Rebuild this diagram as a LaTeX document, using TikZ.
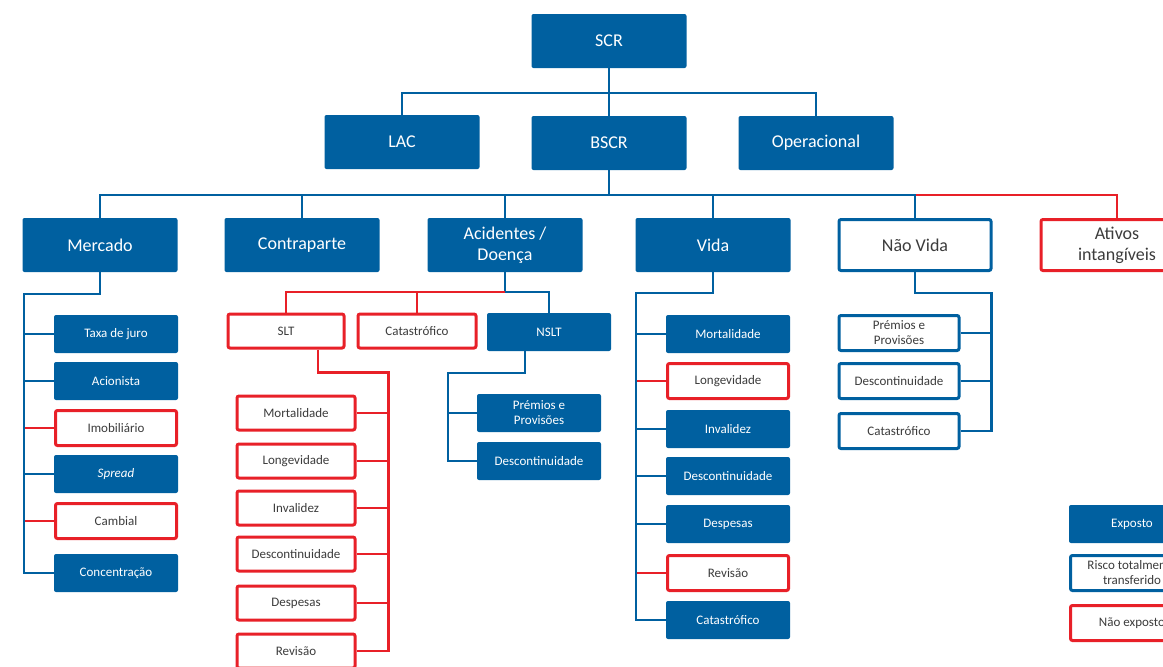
\documentclass[tikz,border=0pt]{standalone}
\usepackage{fontspec}
\setmainfont{Carlito}
\usepackage{tikz}
\usepackage{xcolor}

\definecolor{scrblue}{RGB}{0,96,160}
\definecolor{scrred}{RGB}{232,32,40}
\definecolor{scrtext}{RGB}{60,60,60}

\tikzset{
  big/.style={minimum width=155pt, minimum height=54pt, inner sep=2pt, align=center,
    rounded corners=2pt, font=\fontsize{18}{21}\selectfont},
  small/.style={minimum width=124pt, minimum height=38pt, inner sep=1pt, align=center,
    rounded corners=2pt, font=\fontsize{13}{15}\selectfont},
  expo/.style={fill=scrblue, text=white},
  transf/.style={draw=scrblue, line width=3pt, fill=white, text=scrtext},
  naoexp/.style={draw=scrred, line width=3pt, fill=white, text=scrtext},
  blueline/.style={draw=scrblue, line width=2.5pt},
  redline/.style={draw=scrred, line width=2.5pt}
}

\begin{document}
\begin{tikzpicture}[x=1pt,y=-1pt]
      \useasboundingbox (0,0) rectangle (1163,667);
      \clip (0,0) rectangle (1163,667);
      % top levels
      \node[big,expo] (scr) at (609,41) {SCR};
      \node[big,expo] (lac) at (402,142) {LAC};
      \node[big,expo] (bscr) at (609,143) {BSCR};
      \node[big,expo] (oper) at (816,143) {Operacional};
      % modulos
      \node[big,expo] (mercado) at (100,245) {Mercado};
      \node[big,expo] (contra) at (302,245) {Contraparte};
      \node[big,expo] (acid) at (505,245) {Acidentes /\\Doença};
      \node[big,expo] (vida) at (713,245) {Vida};
      \node[big,transf,minimum width=152pt,minimum height=51pt] (naovida) at (915,245) {Não Vida};
      \node[big,naoexp,minimum width=152pt,minimum height=51pt] (ativos) at (1117,245) {Ativos\\intangíveis};
      % mercado
      \node[small,expo] (taxa) at (116,334) {Taxa de juro};
      \node[small,expo] (acion) at (116,381) {Acionista};
      \node[small,naoexp,minimum width=121pt,minimum height=35pt] (imob) at (116,428) {Imobiliário};
      \node[small,expo] (spread) at (116,474) {\textit{Spread}};
      \node[small,naoexp,minimum width=121pt,minimum height=35pt] (cambial) at (116,521) {Cambial};
      \node[small,expo] (conc) at (116,573) {Concentração};
      % acidentes / doenca
      \node[small,naoexp,minimum width=116pt,minimum height=34pt] (slt) at (286,331) {SLT};
      \node[small,naoexp,minimum width=118pt,minimum height=34pt] (acat) at (417,331) {Catastrófico};
      \node[small,expo] (nslt) at (549,332) {NSLT};
      \node[small,naoexp,minimum width=118pt,minimum height=34pt] (smort) at (296,413) {Mortalidade};
      \node[small,naoexp,minimum width=118pt,minimum height=34pt] (slong) at (296,461) {Longevidade};
      \node[small,naoexp,minimum width=118pt,minimum height=34pt] (sinval) at (296,508) {Invalidez};
      \node[small,naoexp,minimum width=118pt,minimum height=34pt] (sdesc) at (296,554) {Descontinuidade};
      \node[small,naoexp,minimum width=118pt,minimum height=34pt] (sdesp) at (296,603) {Despesas};
      \node[small,naoexp,minimum width=118pt,minimum height=34pt] (srev) at (296,651) {Revisão};
      \node[small,expo] (npremios) at (539,413) {Prémios e\\Provisões};
      \node[small,expo] (ndesc) at (539,461) {Descontinuidade};
      % vida
      \node[small,expo] (vmort) at (728,334) {Mortalidade};
      \node[small,naoexp,minimum width=121pt,minimum height=35pt] (vlong) at (728,381) {Longevidade};
      \node[small,expo] (vinval) at (728,429) {Invalidez};
      \node[small,expo] (vdesc) at (728,476) {Descontinuidade};
      \node[small,expo] (vdesp) at (728,524) {Despesas};
      \node[small,naoexp,minimum width=121pt,minimum height=35pt] (vrev) at (728,573) {Revisão};
      \node[small,expo] (vcat) at (728,620) {Catastrófico};
      % nao vida
      \node[small,transf,minimum width=120pt,minimum height=35pt] (nvpremios) at (899,333) {Prémios e\\Provisões};
      \node[small,transf,minimum width=120pt,minimum height=35pt] (nvdesc) at (899,381) {Descontinuidade};
      \node[small,transf,minimum width=120pt,minimum height=35pt] (nvcat) at (899,431) {Catastrófico};
      % legenda
      \node[small,expo,minimum width=126pt] (lexp) at (1132,524) {Exposto};
      \node[small,transf,minimum width=123pt,minimum height=35pt] (ltransf) at (1132,573) {Risco totalmente\\transferido};
      \node[small,naoexp,minimum width=123pt,minimum height=35pt] (lnaoexp) at (1132,623) {Não exposto};

      % ligacoes do SCR
      \draw[blueline] (scr.south) -- (bscr.north);
      \draw[blueline] (lac.north) |- ([yshift=-25pt]scr.south) -| (oper.north);
      % ligacoes do BSCR
      \draw[blueline] (bscr.south) -- ++(0,25) coordinate (bus);
      \draw[redline] (bus -| naovida.north) -| (ativos.north);
      \draw[blueline] (mercado.north) |- (bus) -| (naovida.north);
      \foreach \m in {contra,acid,vida}
        \draw[blueline] (\m.north) -- (\m.north |- bus);
      % mercado
      \foreach \k in {imob,cambial}
        \draw[redline] (\k.west) -- ++(-30,0);
      \foreach \k in {taxa,acion,spread}
        \draw[blueline] (\k.west) -- ++(-30,0);
      \draw[blueline] (mercado.south) -- ++(0,22) -| ([xshift=-30pt]conc.west) -- (conc.west);
      % acidentes / doenca
      \draw[blueline] (acid.south) -- ++(0,20) coordinate (abus) -| (nslt.north);
      \draw[redline] (abus) -| (slt.north);
      \draw[redline] (acat.north) -- (acat.north |- abus);
      \foreach \k in {smort,slong,sinval,sdesc,sdesp}
        \draw[redline] (\k.east) -- ++(32,0);
      \draw[redline] ([xshift=32pt]slt.south) -- ++(0,23) -| ([xshift=32pt]srev.east) -- (srev.east);
      \draw[blueline] (npremios.west) -- ++(-29,0);
      \draw[blueline] ([xshift=-24pt]nslt.south) -- ++(0,22) -| ([xshift=-29pt]ndesc.west) -- (ndesc.west);
      % vida
      \foreach \k in {vlong,vrev}
        \draw[redline] (\k.west) -- ++(-30,0);
      \foreach \k in {vmort,vinval,vdesc,vdesp}
        \draw[blueline] (\k.west) -- ++(-30,0);
      \draw[blueline] (vida.south) -- ++(0,21) -| ([xshift=-30pt]vcat.west) -- (vcat.west);
      % nao vida
      \foreach \k in {nvpremios,nvdesc}
        \draw[blueline] (\k.east) -- ++(31,0);
      \draw[blueline] (naovida.south) -- ++(0,21) -| ([xshift=31pt]nvcat.east) -- (nvcat.east);
    \end{tikzpicture}
\end{document}
